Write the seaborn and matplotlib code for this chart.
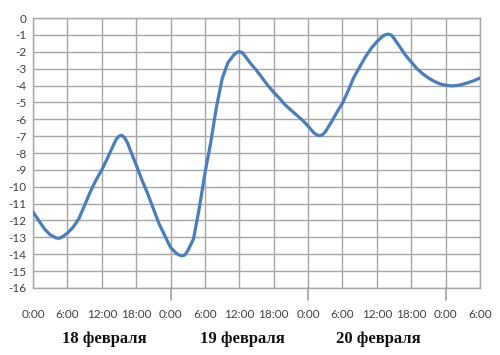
import matplotlib
matplotlib.use("Agg")
import matplotlib.pyplot as plt
import matplotlib.transforms as mtransforms
import seaborn as sns
import pandas as pd

# hours since 0:00 on 18 Feb, temperature
hours = [0, 1, 2, 3, 4, 4.5, 5, 6, 7, 8, 9,
         10, 11, 12, 13, 14, 14.5, 15, 15.5, 16, 16.5, 17, 18, 19,
         20, 21, 22, 23, 24, 25, 25.5, 26, 26.5, 27, 28, 29,
         30, 31, 32, 33, 34, 35, 35.5, 36, 36.5, 37, 38, 39,
         40, 41, 42, 43, 44, 45, 46, 47, 48, 49, 49.5, 50, 50.5, 51, 52, 53, 54, 55, 56, 57, 58, 59,
         60, 61, 61.5, 62, 62.5, 63, 64, 65, 66, 67, 68, 69,
         70, 71, 72, 73, 74, 75, 76, 77, 78]
temps = [-11.5, -12.0, -12.5, -12.85, -13.03, -13.06, -13.0, -12.75, -12.4, -11.9, -11.1,
         -10.3, -9.6, -9.0, -8.3, -7.55, -7.2, -7.0, -6.95, -7.1, -7.4, -7.85, -8.7, -9.6,
         -10.4, -11.3, -12.2, -12.9, -13.6, -13.95, -14.05, -14.1, -14.05, -13.8, -13.1, -11.3,
         -9.2, -7.4, -5.3, -3.6, -2.65, -2.2, -2.05, -1.98, -2.05, -2.25, -2.7, -3.1,
         -3.55, -4.0, -4.4, -4.75, -5.15, -5.45, -5.75, -6.05, -6.4, -6.8, -6.92, -6.97, -6.92, -6.75, -6.2, -5.6, -5.05, -4.3, -3.5, -2.9, -2.3, -1.8,
         -1.4, -1.08, -0.98, -0.95, -1.0, -1.2, -1.7, -2.2, -2.6, -3.0, -3.3, -3.55,
         -3.75, -3.9, -3.98, -4.02, -4.0, -3.92, -3.82, -3.7, -3.55]

tick_hours = list(range(0, 79, 6))
tick_labels = ["0:00", "6:00", "12:00", "18:00"] * 3 + ["0:00", "6:00"]
day_hours = [24, 48, 72]
day_names = ["18 февраля", "19 февраля", "20 февраля"]
day_centers = [12.5, 36.5, 60.3]
y_ticks = list(range(-16, 1))

df = pd.DataFrame({"hour": hours, "temp": temps})

sns.set_style("white")
plt.rcParams["font.family"] = ["Lato", "DejaVu Sans"]

fig = plt.figure(figsize=(5.0, 3.55), dpi=100)
ax = fig.add_axes([0.066, 0.189, 0.894, 0.760])

grid_color = "#a6a6a6"
sns.lineplot(data=df, x="hour", y="temp", ax=ax, color="#4a7ebb",
             linewidth=2.3, zorder=3)
ax.lines[0].set_solid_joinstyle("round")

ax.set_xlim(0, 78)
ax.set_ylim(-16, 0)
ax.set_xticks(tick_hours)
ax.set_xticklabels(tick_labels)
ax.set_yticks(y_ticks)
ax.set_yticklabels([str(v) for v in y_ticks])
ax.grid(True, color=grid_color, linewidth=1.0)
ax.set_axisbelow(True)
for side in ["left", "right", "top", "bottom"]:
    ax.spines[side].set_visible(True)
    ax.spines[side].set_color(grid_color)
    ax.spines[side].set_linewidth(1.0)

ax.tick_params(axis="x", length=0, pad=15, labelsize=8.5, colors="#404040")
ax.tick_params(axis="y", length=0, pad=5, labelsize=8.5, colors="#404040")

# longer marks hanging below the axis at midnight between days
trans = mtransforms.blended_transform_factory(ax.transData, ax.transAxes)
for h in day_hours:
    ax.plot([h, h], [0, -0.045], transform=trans, color="#999999",
            linewidth=1.1, clip_on=False, zorder=10)

for name, c in zip(day_names, day_centers):
    ax.text(c, -0.19, name, transform=trans, ha="center", va="center",
            fontsize=12, fontweight="bold", family=["Liberation Serif"],
            color="#111111")

ax.set_xlabel("")
ax.set_ylabel("")

fig.savefig("out.png", dpi=100)
